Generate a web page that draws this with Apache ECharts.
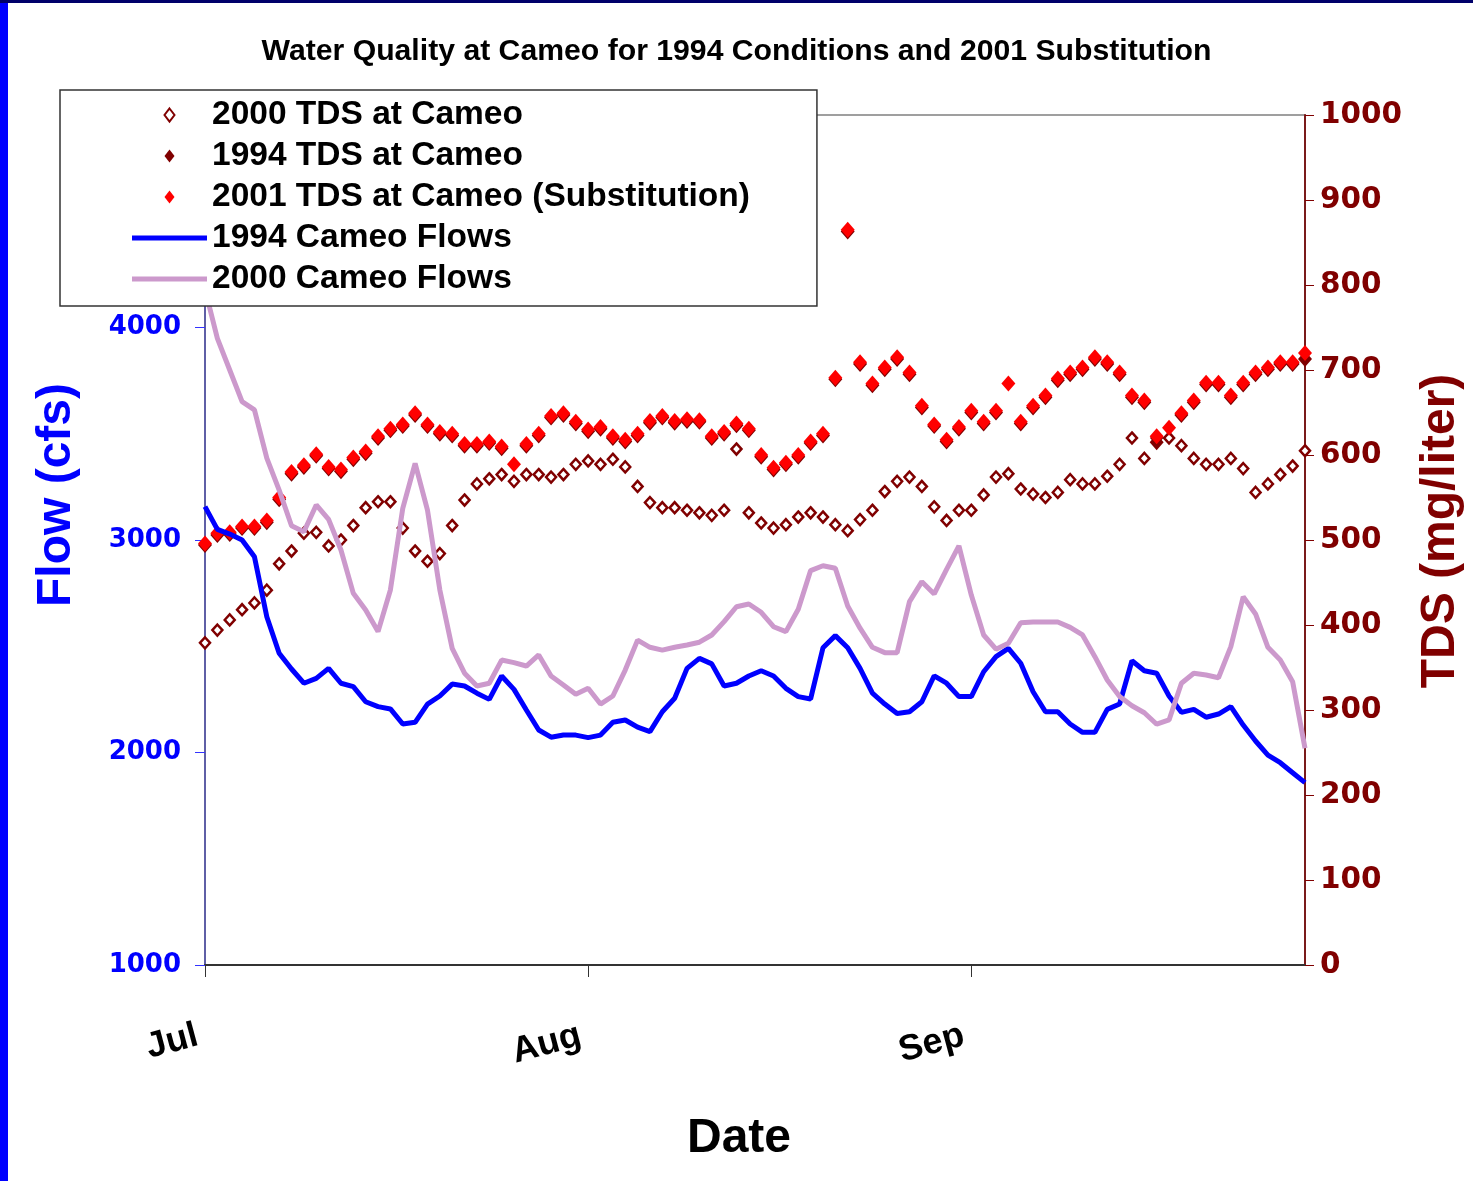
<!DOCTYPE html>
<html>
<head>
<meta charset="utf-8">
<title>Water Quality at Cameo</title>
<script src="https://cdn.jsdelivr.net/npm/echarts@6/dist/echarts.min.js"></script>
<style>
  html, body { margin: 0; padding: 0; background: #fff; }
  #echarts { width: 1473px; height: 1181px; }
</style>
</head>
<body>
<div id="echarts"></div>
<script>
// months on the x axis, one point per day (Jul 1 .. Sep 28)
var months = ['Jul', 'Aug', 'Sep']
var daysInPlot = [31, 31, 28]

var dates = []
for (var m = 0; m < months.length; m++) {
    for (var d = 1; d <= daysInPlot[m]; d++) {
        dates.push(months[m] + ' ' + d)
    }
}

// TDS, mg/liter (right axis)
var tds2000 = [
    379, 394, 406, 418, 426, 441, 472, 487, 508, 509,
    493, 500, 517, 538, 545, 545, 514, 487, 475, 484,
    517, 547, 566, 572, 577, 569, 577, 577, 574, 577,
    589, 593, 589, 595, 586, 563, 544, 538, 538, 535,
    532, 529, 535, 607, 532, 520, 514, 518, 527, 532,
    527, 518, 511, 524, 535, 557, 569, 574, 563, 539,
    523, 535, 535, 553, 574, 578, 560, 554, 550, 556,
    571, 566, 566, 575, 589, 620, 596, 620, 620, 611,
    596, 589, 589, 596, 584, 556, 566, 577, 587, 605
]
var tds1994 = [
    494, 506, 507, 514, 514, 521, 548, 578, 586, 599,
    584, 581, 595, 602, 620, 629, 634, 647, 634, 625,
    623, 611, 611, 614, 608, null, 611, 623, 644, 647,
    637, 628, 631, 620, 616, 623, 638, 644, 638, 640,
    639, 620, 625, 635, 629, 598, 583, 589, 598, 614,
    623, 689, 863, 707, 682, 701, 713, 695, 656, 634,
    616, 631, 650, 637, 650, null, 637, 656, 668, 688,
    695, 701, 713, 707, 695, 668, 662, 615, null, 647,
    662, 683, 683, 668, 683, 695, 701, 707, 707, 713
]
var tds2001 = [
    496, 508, 509, 516, 516, 523, 550, 580, 588, 601,
    586, 583, 597, 604, 622, 631, 636, 649, 636, 627,
    625, 613, 613, 616, 610, 589, 613, 625, 646, 649,
    639, 630, 633, 622, 618, 625, 640, 646, 640, 642,
    641, 622, 627, 637, 631, 600, 585, 591, 600, 616,
    625, 691, 865, 709, 684, 703, 715, 697, 658, 636,
    618, 633, 652, 639, 652, 684, 639, 658, 670, 690,
    697, 703, 715, 709, 697, 670, 664, 622, 632, 649,
    664, 685, 685, 670, 685, 697, 703, 709, 709, 720
]

// flows, cfs (left axis)
var flow1994 = [
    3157, 3050, 3028, 3000, 2921, 2639, 2467, 2393, 2326, 2349,
    2396, 2326, 2310, 2239, 2216, 2205, 2134, 2142, 2228, 2266,
    2322, 2313, 2279, 2250, 2360, 2297, 2200, 2106, 2072, 2082,
    2082, 2070, 2082, 2142, 2153, 2119, 2098, 2192, 2255, 2396,
    2443, 2417, 2313, 2326, 2360, 2385, 2360, 2302, 2263, 2252,
    2493, 2550, 2493, 2396, 2279, 2228, 2184, 2192, 2239, 2361,
    2326, 2263, 2263, 2380, 2451, 2490, 2420, 2286, 2192, 2192,
    2134, 2095, 2095, 2203, 2228, 2432, 2385, 2373, 2266, 2189,
    2203, 2166, 2181, 2216, 2129, 2054, 1988, 1952, 1905, 1858
]
var flow2000 = [
    4180, 3949, 3800, 3651, 3612, 3385, 3235, 3067, 3039, 3165,
    3097, 2953, 2749, 2671, 2569, 2765, 3149, 3361, 3141, 2765,
    2490, 2373, 2313, 2326, 2435, 2423, 2407, 2459, 2360, 2318,
    2274, 2302, 2228, 2266, 2388, 2529, 2495, 2482, 2495, 2506,
    2519, 2553, 2616, 2686, 2699, 2660, 2592, 2569, 2674, 2856,
    2879, 2867, 2689, 2585, 2495, 2470, 2470, 2710, 2804, 2746,
    2862, 2972, 2741, 2553, 2486, 2514, 2611, 2614, 2614, 2614,
    2589, 2553, 2451, 2341, 2263, 2220, 2187, 2133, 2153, 2326,
    2373, 2365, 2352, 2498, 2733, 2652, 2495, 2435, 2333, 2020
]

var chart = echarts.init(document.getElementById('echarts'))

var isMonthStart = function (index) {
    return /\s1$/.test(dates[index])
}
var plainNumber = function (v) { return String(v) }

var font = 'Liberation Sans, Arial, sans-serif'
var numFont = 'DejaVu Sans, Verdana, sans-serif'

// legend icons: a narrow diamond and a flat bar (keep aspect)
var diamondIcon = 'path://M5,0 L10,6.5 L5,13 L0,6.5 Z'
var barIcon = 'path://M0,0 L75,0 L75,5 L0,5 Z'

var option = {
    animation: false,
    backgroundColor: '#fff',
    title: {
        text: 'Water Quality at Cameo for 1994 Conditions and 2001 Substitution',
        left: 'center',
        top: 37,
        padding: 0,
        textStyle: {
            fontFamily: font,
            fontSize: 30.2,
            fontWeight: 'bold',
            color: '#000'
        }
    },
    legend: {
        orient: 'vertical',
        left: 60,
        top: 90,
        padding: [8, 67, 10, 72],
        backgroundColor: '#fff',
        borderColor: '#333',
        borderWidth: 1.5,
        borderRadius: 0,
        itemWidth: 75,
        itemHeight: 13,
        itemGap: 7,
        symbolKeepAspect: true,
        z: 10,
        textStyle: {
            fontFamily: font,
            fontSize: 33.5,
            fontWeight: 'bold',
            color: '#000',
            lineHeight: 30
        },
        data: [
            { name: '2000 TDS at Cameo', icon: diamondIcon },
            { name: '1994 TDS at Cameo', icon: diamondIcon },
            { name: '2001 TDS at Cameo (Substitution)', icon: diamondIcon },
            { name: '1994 Cameo Flows', icon: barIcon },
            { name: '2000 Cameo Flows', icon: barIcon }
        ]
    },
    graphic: [
        { type: 'rect', left: 0, top: 0, shape: { width: 8, height: 1181 }, style: { fill: '#0000ff' } },
        { type: 'rect', left: 0, top: 0, shape: { width: 1473, height: 3 }, style: { fill: '#00006a' } }
    ],
    grid: {
        left: 205,
        right: 165,
        top: 115,
        bottom: 216,
        show: true,
        borderColor: '#808080',
        borderWidth: 1.5
    },
    xAxis: {
        type: 'category',
        data: dates,
        boundaryGap: false,
        axisLine: { lineStyle: { color: '#333', width: 2 } },
        axisTick: {
            interval: isMonthStart,
            length: 12,
            lineStyle: { color: '#333', width: 1 }
        },
        axisLabel: {
            interval: isMonthStart,
            rotate: 15,
            margin: 68,
            padding: [0, 8, 0, 0],
            fontFamily: font,
            fontSize: 36,
            fontWeight: 'bold',
            color: '#000',
            formatter: function (v) { return v.split(' ')[0] }
        },
        splitLine: { show: false },
        name: 'Date',
        nameLocation: 'middle',
        nameGap: 150,
        nameTextStyle: {
            fontFamily: font,
            fontSize: 48,
            fontWeight: 'bold',
            color: '#000',
            padding: [0, 32, 0, 0]
        }
    },
    yAxis: [
        {
            type: 'value',
            position: 'left',
            min: 1000,
            max: 5000,
            interval: 1000,
            axisLine: { show: true, lineStyle: { color: '#4a4aa8', width: 1.5 } },
            axisTick: { show: true, length: 10, lineStyle: { color: '#3333ff', width: 1 } },
            axisLabel: {
                margin: 24,
                fontFamily: numFont,
                fontSize: 26,
                fontWeight: 'bold',
                color: '#0000ff',
                formatter: plainNumber
            },
            splitLine: { show: false },
            name: 'Flow (cfs)',
            nameLocation: 'middle',
            nameRotate: 90,
            nameGap: 124,
            nameTextStyle: {
                fontFamily: font,
                fontSize: 48,
                fontWeight: 'bold',
                color: '#0000ff',
                padding: [0, 0, 0, 90]
            }
        },
        {
            type: 'value',
            position: 'right',
            min: 0,
            max: 1000,
            interval: 100,
            axisLine: { show: true, lineStyle: { color: '#7a1a1a', width: 2 } },
            axisTick: { show: true, length: 9, lineStyle: { color: '#800000', width: 1 } },
            axisLabel: {
                margin: 15,
                fontFamily: numFont,
                fontSize: 29.5,
                fontWeight: 'bold',
                color: '#800000',
                formatter: plainNumber
            },
            splitLine: { show: false },
            name: 'TDS (mg/liter)',
            nameLocation: 'middle',
            nameRotate: 90,
            nameGap: 112,
            nameTextStyle: {
                fontFamily: font,
                fontSize: 48,
                fontWeight: 'bold',
                color: '#800000',
                padding: [0, 0, 0, 18]
            }
        }
    ],
    series: [
        {
            name: '2000 TDS at Cameo',
            type: 'scatter',
            yAxisIndex: 1,
            symbol: 'diamond',
            symbolSize: [10, 11],
            itemStyle: { color: '#fff', borderColor: '#800000', borderWidth: 2.5, opacity: 1 },
            data: tds2000
        },
        {
            name: '1994 TDS at Cameo',
            type: 'scatter',
            yAxisIndex: 1,
            symbol: 'diamond',
            symbolSize: [14, 16],
            itemStyle: { color: '#800000', opacity: 1 },
            data: tds1994
        },
        {
            name: '2001 TDS at Cameo (Substitution)',
            type: 'scatter',
            yAxisIndex: 1,
            symbol: 'diamond',
            symbolSize: [14, 16],
            itemStyle: { color: '#ff0000', opacity: 1 },
            data: tds2001
        },
        {
            name: '1994 Cameo Flows',
            type: 'line',
            yAxisIndex: 0,
            symbol: 'none',
            lineStyle: { color: '#0000ff', width: 5 },
            itemStyle: { color: '#0000ff' },
            data: flow1994
        },
        {
            name: '2000 Cameo Flows',
            type: 'line',
            yAxisIndex: 0,
            symbol: 'none',
            lineStyle: { color: '#cc99cc', width: 5 },
            itemStyle: { color: '#cc99cc' },
            data: flow2000
        }
    ]
}

chart.setOption(option)
</script>
</body>
</html>
